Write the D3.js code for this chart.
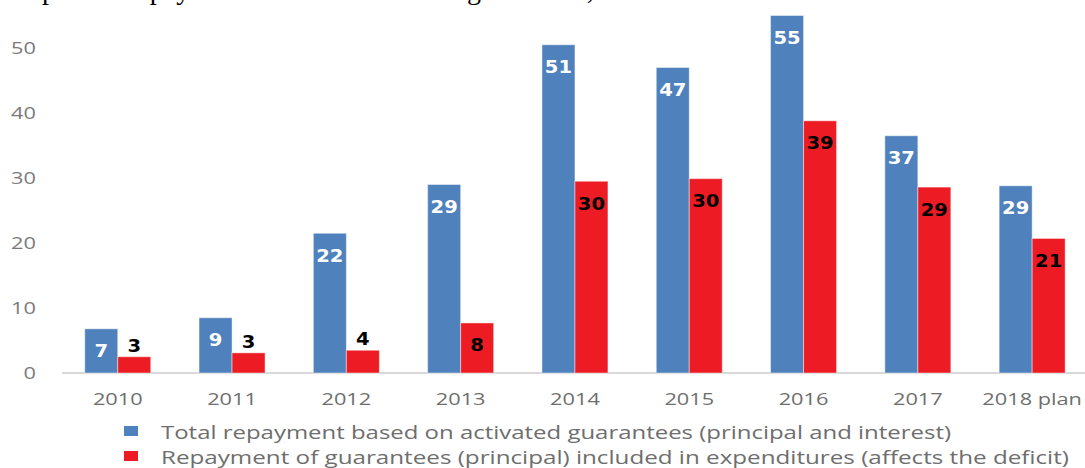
<!DOCTYPE html>
<html>
<head>
<meta charset="utf-8">
<script src="https://cdn.jsdelivr.net/npm/d3@7"></script>
<style>
  body { margin: 0; background: #fff; }
  svg { display: block; }
</style>
</head>
<body>
<div id="chart"></div>
<script>
// Data (EUR million)
const years = ['2010', '2011', '2012', '2013', '2014', '2015', '2016', '2017', '2018 plan'];
const totalRepayment = [6.8, 8.5, 21.5, 29.0, 50.5, 47.0, 55.0, 36.5, 28.8];
const principalInExpenditures = [2.5, 3.1, 3.5, 7.7, 29.5, 29.9, 38.8, 28.6, 20.7];
const yTicks = [0, 10, 20, 30, 40, 50];
const seriesNames = [
    'Total repayment based on activated guarantees (principal and interest)',
    'Repayment of guarantees (principal) included in expenditures (affects the deficit)'
];
const titleText = 'Graph 11: Repayment based on activated guarantees, in EUR million';

const width = 1085, height = 468;
const blue = '#4f81bd', red = '#ed1c24';
const stretch = 1.28; // the original picture is stretched sideways

const svg = d3.select('#chart')
    .append('svg')
    .attr('width', width)
    .attr('height', height);

// Title, cut off at the top in the reference (only its lower edge shows)
svg.append('text')
    .attr('x', 0)
    .attr('y', -1.5)
    .attr('font-family', 'Liberation Serif, serif')
    .attr('font-size', 28)
    .attr('fill', '#000')
    .text(titleText);

// Scales
const x0 = d3.scaleBand()
    .domain(years)
    .range([60.6, 1089.3])
    .paddingInner(0.4226)
    .paddingOuter(0.2113);

const x1 = d3.scaleBand()
    .domain([0, 1])
    .range([0, x0.bandwidth()]);

const y = d3.scaleLinear()
    .domain([0, 50])
    .range([373, 48]);

// Y axis labels
const yAxis = svg.append('g')
    .attr('transform', 'translate(46,0)')
    .call(d3.axisLeft(y).tickValues(yTicks).tickSize(0).tickPadding(10));
yAxis.select('.domain').remove();
yAxis.selectAll('text')
    .attr('font-family', 'Open Sans, sans-serif')
    .attr('font-size', 17)
    .attr('fill', '#7a7a7a')
    .attr('x', -10 / stretch)
    .attr('transform', `scale(${stretch},1)`);

// Baseline
svg.append('line')
    .attr('x1', 62).attr('x2', width)
    .attr('y1', y(0)).attr('y2', y(0))
    .attr('stroke', '#d9d9d9')
    .attr('stroke-width', 2);

// X axis labels
const xAxis = svg.append('g')
    .attr('transform', 'translate(0,392)')
    .call(d3.axisBottom(x0).tickSize(0).tickPadding(0));
xAxis.select('.domain').remove();
xAxis.selectAll('text')
    .attr('font-family', 'Open Sans, sans-serif')
    .attr('font-size', 17)
    .attr('fill', '#6e6e6e')
    .attr('dy', '0.78em')
    .attr('transform', `scale(${stretch},1)`);
xAxis.selectAll('.tick')
    .attr('transform', d => `translate(${x0(d) + x0.bandwidth() / 2},0)`);

// Bars
const series = [
    { values: totalRepayment, color: blue, labelColor: '#fff' },
    { values: principalInExpenditures, color: red, labelColor: '#000' }
];

series.forEach((s, si) => {
    const rows = years.map((yr, i) => ({ year: yr, value: s.values[i] }));

    svg.selectAll('.bar-' + si)
        .data(rows)
        .enter()
        .append('rect')
        .attr('class', 'bar-' + si)
        .attr('x', d => x0(d.year) + x1(si))
        .attr('width', x1.bandwidth())
        .attr('y', d => y(d.value))
        .attr('height', d => y(0) - y(d.value))
        .attr('fill', s.color)
        .attr('stroke', 'rgba(255,255,255,0.45)')
        .attr('stroke-width', 1);

    // value labels: inside the top when the bar is tall enough, else above
    svg.selectAll('.lbl-' + si)
        .data(rows)
        .enter()
        .append('text')
        .attr('class', 'lbl-' + si)
        .attr('x', d => (x0(d.year) + x1(si) + x1.bandwidth() / 2) / 1.15)
        .attr('y', d => {
            const h = y(0) - y(d.value);
            return h > 32 ? y(d.value) + 28.5 : y(d.value) - 5;
        })
        .attr('transform', 'scale(1.15,1)')
        .attr('text-anchor', 'middle')
        .attr('font-family', 'DejaVu Sans, sans-serif')
        .attr('font-weight', 'bold')
        .attr('font-size', 17)
        .attr('fill', d => (y(0) - y(d.value)) > 32 ? s.labelColor : '#000')
        .text(d => Math.round(d.value));
});

// Legend
const legend = svg.append('g');
const legendRows = [
    { name: seriesNames[0], color: blue, y: 426, len: 790 },
    { name: seriesNames[1], color: red, y: 451, len: 908 }
];
legendRows.forEach(r => {
    legend.append('rect')
        .attr('x', 124).attr('y', r.y)
        .attr('width', 14).attr('height', 10)
        .attr('fill', r.color);
    legend.append('text')
        .attr('x', 161)
        .attr('y', r.y + 13)
        .attr('font-family', 'Open Sans, sans-serif')
        .attr('font-size', 18)
        .attr('fill', '#6e6e6e')
        .attr('textLength', r.len)
        .attr('lengthAdjust', 'spacingAndGlyphs')
        .text(r.name);
});
</script>
</body>
</html>
